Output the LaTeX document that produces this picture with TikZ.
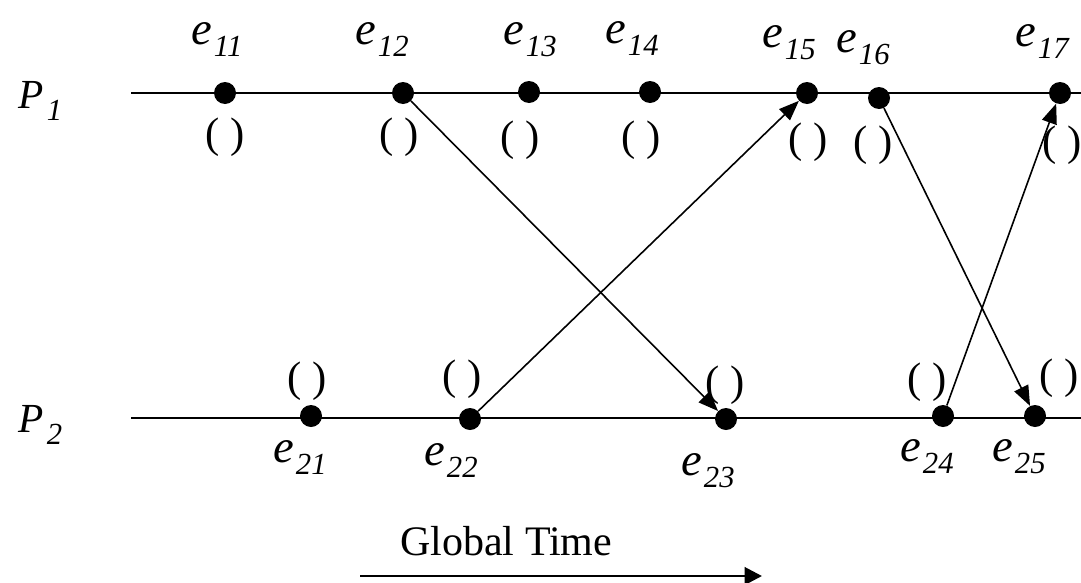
\documentclass[tikz,border=0pt]{standalone}
\usepackage{fontspec}
\setmainfont{Liberation Serif}
\usetikzlibrary{arrows.meta}
\newcommand{\ev}[1]{{\fontsize{35}{35}\selectfont\itshape e}\kern1.5pt\raisebox{-9pt}{\fontsize{23}{23}\selectfont\itshape #1}}
\newcommand{\pv}[1]{{\fontsize{31}{31}\selectfont\itshape P}\kern2.5pt\raisebox{-9pt}{\fontsize{23}{23}\selectfont\itshape #1}}
\tikzset{
  dot/.style={circle,fill=black,inner sep=0pt,minimum size=16.5pt},
  proc/.style={line width=1.5pt},
  msg/.style={line width=1.2pt,-{Triangle[length=15pt,width=11.5pt]}},
  evlab/.style={anchor=base west,inner sep=0pt},
  par/.style={anchor=base,inner sep=0pt,font=\fontsize{32}{32}\selectfont},
}
\begin{document}
\begin{tikzpicture}[x=0.75pt,y=-0.75pt]
\useasboundingbox (0,0) rectangle (1081,582);
% process lines
\coordinate (p1s) at (131,93);
\coordinate (p1e) at (1081,93);
\coordinate (p2s) at (131,418);
\coordinate (p2e) at (1081,418);
\draw[proc] (p1s) -- (p1e);
\draw[proc] (p2s) -- (p2e);
% process labels
\node[evlab] (P1) at (18,108) {\pv{1}};
\node[evlab] (P2) at (18,432) {\pv{2}};
% events P1
\node[dot] (e11) at (225,93) {};
\node[dot] (e12) at (403,93) {};
\node[dot] (e13) at (529,92) {};
\node[dot] (e14) at (650,92) {};
\node[dot] (e15) at (807,93) {};
\node[dot] (e16) at (879,98) {};
\node[dot] (e17) at (1060,93) {};
% events P2
\node[dot] (e21) at (311,416) {};
\node[dot] (e22) at (470,419) {};
\node[dot] (e23) at (726,419) {};
\node[dot] (e24) at (943,416) {};
\node[dot] (e25) at (1035,416) {};
% event labels P1
\node[evlab] (l11) at (191,44) {\ev{11}};
\node[evlab] (l12) at (355,44) {\ev{12}};
\node[evlab] (l13) at (503,44) {\ev{13}};
\node[evlab] (l14) at (605,43) {\ev{14}};
\node[evlab] (l15) at (762,47) {\ev{15}};
\node[evlab] (l16) at (836,52) {\ev{16}};
\node[evlab] (l17) at (1015,46) {\ev{17}};
% event labels P2
\node[evlab] (l21) at (273,462) {\ev{21}};
\node[evlab] (l22) at (424,465) {\ev{22}};
\node[evlab] (l23) at (681,475) {\ev{23}};
\node[evlab] (l24) at (900,461) {\ev{24}};
\node[evlab] (l25) at (992,461) {\ev{25}};
% parentheses P1
\node[par] (c11) at (225,147) {( )};
\node[par] (c12) at (399,147) {( )};
\node[par] (c13) at (520,150) {( )};
\node[par] (c14) at (641,150) {( )};
\node[par] (c15) at (808,152) {( )};
\node[par] (c16) at (873,155) {( )};
\node[par] (c17) at (1062,155) {( )};
% parentheses P2
\node[par] (c21) at (307,391) {( )};
\node[par] (c22) at (462,389) {( )};
\node[par] (c23) at (725,395) {( )};
\node[par] (c24) at (927,392) {( )};
\node[par] (c25) at (1059,388) {( )};
% messages
\draw[msg] (e12) -- (e23);
\draw[msg] (e22) -- (e15);
\draw[msg] (e16) -- (e25);
\draw[msg] (e24) -- (e17);
% global time
\node[anchor=base west,inner sep=0pt,font=\fontsize{31.5}{31.5}\selectfont] (gt) at (400,555) {Global Time};
\coordinate (gs) at (360,576);
\coordinate (ge) at (762,576);
\draw[line width=2.2pt,-{Triangle[length=13pt,width=13pt]}] (gs) -- (ge);
\end{tikzpicture}
\end{document}
